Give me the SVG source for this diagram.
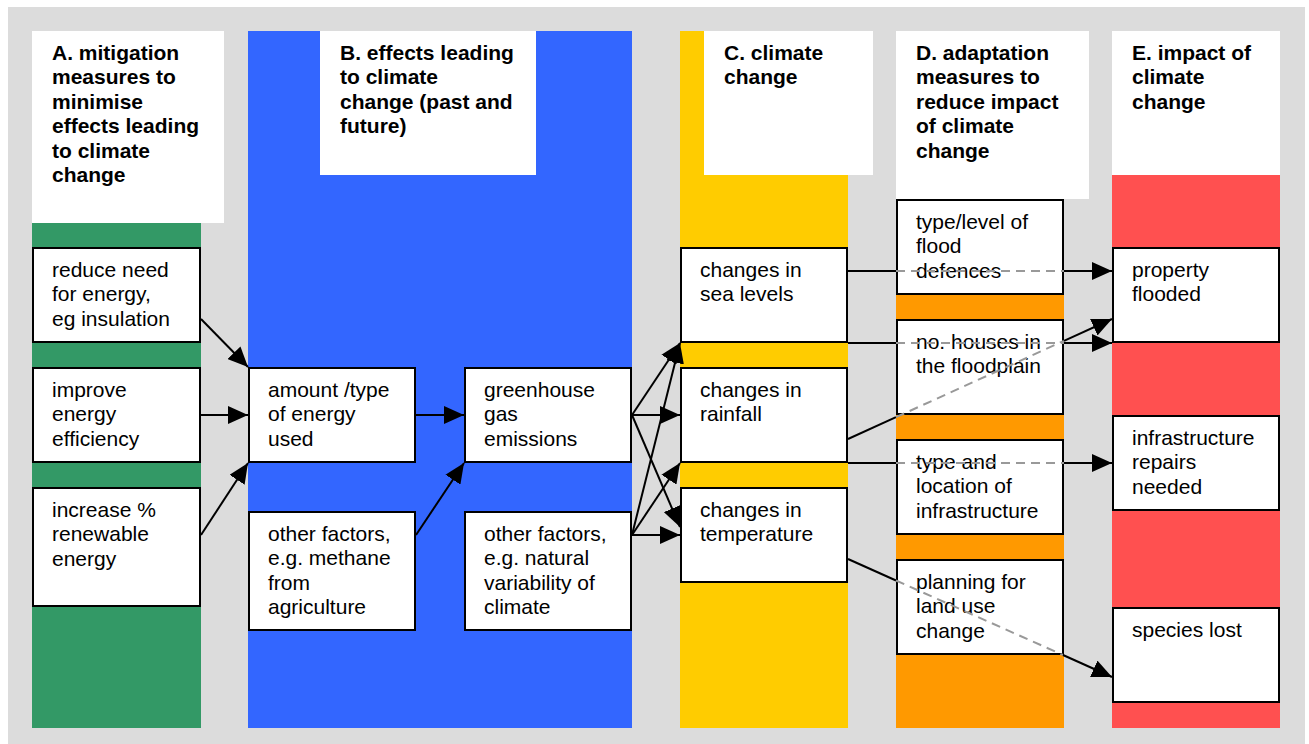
<svg xmlns="http://www.w3.org/2000/svg" width="1309" height="744" viewBox="0 0 1309 744">
<defs>
<marker id="arr" markerUnits="userSpaceOnUse" markerWidth="20" markerHeight="18" refX="20" refY="9" orient="auto" viewBox="0 0 20 18"><path d="M0,0 L20,9 L0,18 z" fill="#000"/></marker>
<style>
text{font-family:"Liberation Sans",Arial,Helvetica,sans-serif;font-size:21px;fill:#000}
.h{font-weight:bold}
.box{fill:#fff;stroke:#000;stroke-width:2}
.hdr{fill:#fff}
.ln{stroke:#000;stroke-width:2;fill:none}
.ar{marker-end:url(#arr)}
.dash{stroke:#999;stroke-width:2;stroke-dasharray:9 6;fill:none}
</style>
</defs>
<rect x="8" y="7" width="1297" height="737" fill="#DCDCDC"/>
<g id="columns">
<rect x="32" y="223" width="169" height="505" fill="#339966"/>
<rect x="248" y="31" width="384" height="697" fill="#3366FF"/>
<rect x="680" y="31" width="168" height="697" fill="#FFCC00"/>
<rect x="896" y="199" width="168" height="529" fill="#FF9900"/>
<rect x="1112" y="175" width="168" height="553" fill="#FF5050"/>
</g>
<g id="headerA"><rect class="hdr" x="32" y="31" width="192" height="192"/>
<text class="h" x="52" y="60">A. mitigation</text><text class="h" x="52" y="84.4">measures to</text><text class="h" x="52" y="108.8">minimise</text><text class="h" x="52" y="133.2">effects leading</text><text class="h" x="52" y="157.6">to climate</text><text class="h" x="52" y="182">change</text></g>
<g id="headerB"><rect class="hdr" x="320" y="31" width="216" height="144"/>
<text class="h" x="340" y="60">B. effects leading</text><text class="h" x="340" y="84.4">to climate</text><text class="h" x="340" y="108.8">change (past and</text><text class="h" x="340" y="133.2">future)</text></g>
<g id="headerC"><rect class="hdr" x="704" y="31" width="169" height="144"/>
<text class="h" x="724" y="60">C. climate</text><text class="h" x="724" y="84.4">change</text></g>
<g id="headerD"><rect class="hdr" x="896" y="31" width="193" height="168"/>
<text class="h" x="916" y="60">D. adaptation</text><text class="h" x="916" y="84.4">measures to</text><text class="h" x="916" y="108.8">reduce impact</text><text class="h" x="916" y="133.2">of climate</text><text class="h" x="916" y="157.6">change</text></g>
<g id="headerE"><rect class="hdr" x="1112" y="31" width="168" height="144"/>
<text class="h" x="1132" y="60">E. impact of</text><text class="h" x="1132" y="84.4">climate</text><text class="h" x="1132" y="108.8">change</text></g>

<g id="A1"><rect class="box" x="33" y="248" width="167" height="94"/><text x="52" y="277">reduce need</text><text x="52" y="301.4">for energy,</text><text x="52" y="325.8">eg insulation</text></g>
<g id="A2"><rect class="box" x="33" y="368" width="167" height="94"/><text x="52" y="397">improve</text><text x="52" y="421.4">energy</text><text x="52" y="445.8">efficiency</text></g>
<g id="A3"><rect class="box" x="33" y="488" width="167" height="118"/><text x="52" y="517">increase %</text><text x="52" y="541.4">renewable</text><text x="52" y="565.8">energy</text></g>
<g id="B1"><rect class="box" x="249" y="368" width="166" height="94"/><text x="268" y="397">amount /type</text><text x="268" y="421.4">of energy</text><text x="268" y="445.8">used</text></g>
<g id="B2"><rect class="box" x="249" y="512" width="166" height="118"/><text x="268" y="541">other factors,</text><text x="268" y="565.4">e.g. methane</text><text x="268" y="589.8">from</text><text x="268" y="614.2">agriculture</text></g>
<g id="B3"><rect class="box" x="465" y="368" width="166" height="94"/><text x="484" y="397">greenhouse</text><text x="484" y="421.4">gas</text><text x="484" y="445.8">emissions</text></g>
<g id="B4"><rect class="box" x="465" y="512" width="166" height="118"/><text x="484" y="541">other factors,</text><text x="484" y="565.4">e.g. natural</text><text x="484" y="589.8">variability of</text><text x="484" y="614.2">climate</text></g>
<g id="C1"><rect class="box" x="681" y="248" width="166" height="94"/><text x="700" y="277">changes in</text><text x="700" y="301.4">sea levels</text></g>
<g id="C2"><rect class="box" x="681" y="368" width="166" height="94"/><text x="700" y="397">changes in</text><text x="700" y="421.4">rainfall</text></g>
<g id="C3"><rect class="box" x="681" y="488" width="166" height="94"/><text x="700" y="517">changes in</text><text x="700" y="541.4">temperature</text></g>
<g id="D1"><rect class="box" x="897" y="200" width="166" height="94"/><text x="916" y="229">type/level of</text><text x="916" y="253.4">flood</text><text x="916" y="277.8">defences</text></g>
<g id="D2"><rect class="box" x="897" y="320" width="166" height="94"/><text x="916" y="349">no. houses in</text><text x="916" y="373.4">the floodplain</text></g>
<g id="D3"><rect class="box" x="897" y="440" width="166" height="94"/><text x="916" y="469">type and</text><text x="916" y="493.4">location of</text><text x="916" y="517.8">infrastructure</text></g>
<g id="D4"><rect class="box" x="897" y="560" width="166" height="94"/><text x="916" y="589">planning for</text><text x="916" y="613.4">land use</text><text x="916" y="637.8">change</text></g>
<g id="E1"><rect class="box" x="1113" y="248" width="166" height="94"/><text x="1132" y="277">property</text><text x="1132" y="301.4">flooded</text></g>
<g id="E2"><rect class="box" x="1113" y="416" width="166" height="94"/><text x="1132" y="445">infrastructure</text><text x="1132" y="469.4">repairs</text><text x="1132" y="493.8">needed</text></g>
<g id="E3"><rect class="box" x="1113" y="608" width="166" height="94"/><text x="1132" y="637">species lost</text></g>

<g id="connectors">
<line class="ln ar" x1="201" y1="319" x2="248" y2="367"/>
<line class="ln ar" x1="201" y1="415" x2="248" y2="415"/>
<line class="ln ar" x1="201" y1="535" x2="248" y2="463"/>
<line class="ln ar" x1="416" y1="415" x2="464" y2="415"/>
<line class="ln ar" x1="416" y1="535" x2="464" y2="463"/>
<line class="ln ar" x1="632" y1="415" x2="680" y2="343"/>
<line class="ln ar" x1="632" y1="415" x2="680" y2="415"/>
<line class="ln ar" x1="632" y1="415" x2="680" y2="527"/>
<line class="ln ar" x1="632" y1="535" x2="680" y2="343"/>
<line class="ln ar" x1="632" y1="535" x2="680" y2="463"/>
<line class="ln ar" x1="632" y1="535" x2="680" y2="535"/>
<line class="ln" x1="848" y1="271" x2="896" y2="271"/><line class="dash" x1="896" y1="271" x2="1064" y2="271"/><line class="ln ar" x1="1064" y1="271" x2="1112" y2="271"/>
<line class="ln" x1="848" y1="343" x2="896" y2="343"/><line class="dash" x1="896" y1="343" x2="1064" y2="343"/><line class="ln ar" x1="1064" y1="343" x2="1112" y2="343"/>
<line class="ln" x1="848" y1="439" x2="896" y2="417.2"/><line class="dash" x1="896" y1="417.2" x2="1064" y2="340.8"/><line class="ln ar" x1="1064" y1="340.8" x2="1112" y2="319"/>
<line class="ln" x1="848" y1="463" x2="896" y2="463"/><line class="dash" x1="896" y1="463" x2="1064" y2="463"/><line class="ln ar" x1="1064" y1="463" x2="1112" y2="463"/>
<line class="ln" x1="848" y1="559" x2="896" y2="580.5"/><line class="dash" x1="896" y1="580.5" x2="1063" y2="655"/><line class="ln ar" x1="1063" y1="655" x2="1112" y2="677"/>
</g>
</svg>
